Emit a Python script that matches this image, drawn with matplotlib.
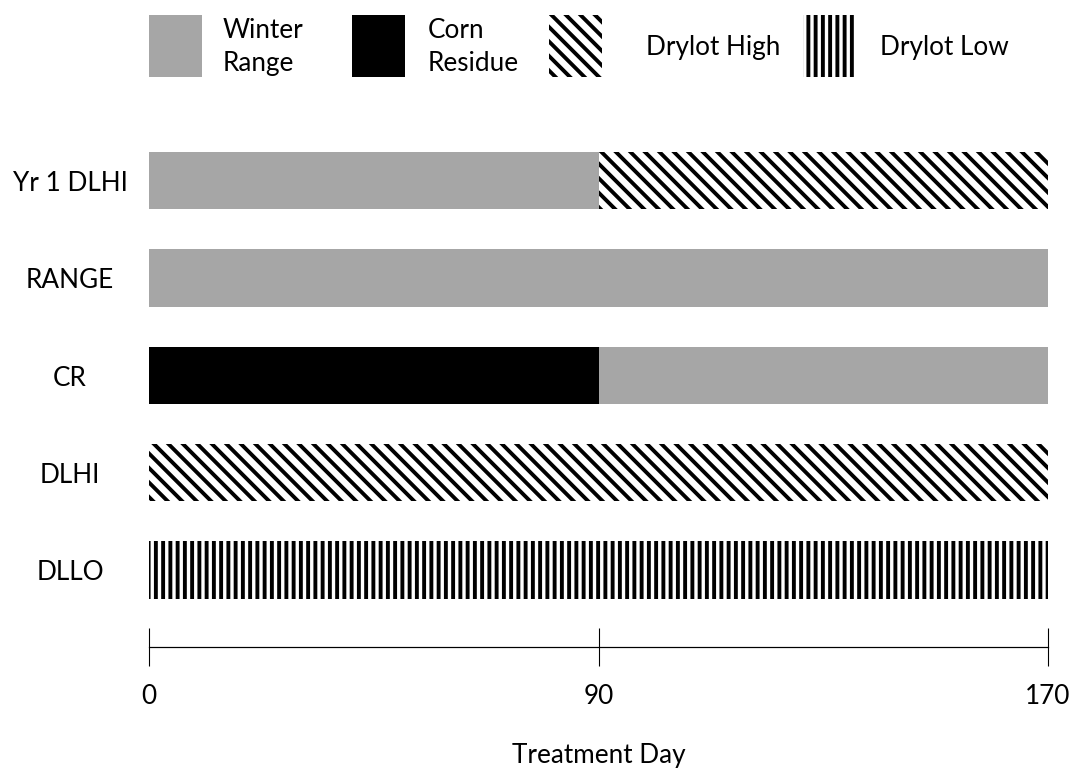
import numpy as np
import matplotlib
matplotlib.use('Agg')
import matplotlib.pyplot as plt
from matplotlib.patches import Rectangle

plt.rcParams['font.family'] = ['Lato', 'DejaVu Sans']
plt.rcParams['hatch.linewidth'] = 3.2

# treatments, top to bottom
treatments = ['Yr 1 DLHI', 'RANGE', 'CR', 'DLHI', 'DLLO']
# two feeding periods (treatment days)
period_start = [0, 90]
period_end = [90, 170]
feed_period1 = ['Winter Range', 'Winter Range', 'Corn Residue', 'Drylot High', 'Drylot Low']
feed_period2 = ['Drylot High', 'Winter Range', 'Winter Range', 'Drylot High', 'Drylot Low']
day_ticks = [0, 90, 170]

feeds = ['Winter Range', 'Corn Residue', 'Drylot High', 'Drylot Low']
feed_labels = ['Winter\nRange', 'Corn\nResidue', 'Drylot High', 'Drylot Low']

styles = {
    'Winter Range': dict(facecolor='#a6a6a6', edgecolor='#a6a6a6'),
    'Corn Residue': dict(facecolor='black', edgecolor='black'),
    'Drylot High': dict(facecolor='white', edgecolor='black', hatch='\\\\'),
    'Drylot Low': dict(facecolor='white', edgecolor='black', hatch='||'),
}


# the day axis is drawn as two equal halves: 0-90 and 90-170
def fwd(x):
    x = np.asarray(x, dtype=float)
    return np.where(x <= 90, x / 90.0, 1 + (x - 90) / 80.0)


def inv(u):
    u = np.asarray(u, dtype=float)
    return np.where(u <= 1, u * 90.0, 90 + (u - 1) * 80.0)


W, H = 1074, 768
FS = 21.5
fig = plt.figure(figsize=(12.275, 8.78))
ax = fig.add_axes([149 / W, 1 - 647 / H, (1048 - 149) / W, (647 - 140) / H])
ax.set_xscale('function', functions=(fwd, inv))

for i, t in enumerate(treatments):
    for p, feed in enumerate([feed_period1[i], feed_period2[i]]):
        ax.barh(i, period_end[p] - period_start[p], left=period_start[p],
                height=0.59, linewidth=0, **styles[feed])

ax.set_xlim(0, 170)
ax.set_ylim(4.79, -0.42)

for s in ['left', 'top', 'right']:
    ax.spines[s].set_visible(False)
ax.spines['bottom'].set_linewidth(1.0)
ax.spines['bottom'].set_color('black')

ax.set_xticks(day_ticks)
ax.set_xticklabels([str(d) for d in day_ticks])
ax.tick_params(axis='x', direction='inout', length=32, width=0.9, pad=14,
               labelsize=FS, colors='black')
ax.set_yticks(range(len(treatments)))
ax.set_yticklabels(treatments, ha='center')
ax.tick_params(axis='y', length=0, pad=65, labelsize=FS)
ax.set_xlabel('Treatment Day', fontsize=FS, labelpad=28)

# legend across the top
handle_x = [149, 352, 549, 803]
text_x = [223, 428, 646, 880]
for feed, lab, hx, tx in zip(feeds, feed_labels, handle_x, text_x):
    r = Rectangle((hx / W, 1 - 77 / H), 53 / W, 62 / H, transform=fig.transFigure,
                  linewidth=0, **styles[feed])
    fig.add_artist(r)
    fig.text(tx / W, 1 - 47 / H, lab, fontsize=FS, va='center', ha='left',
             linespacing=1.4)

fig.savefig('out.png', dpi=87.5)
